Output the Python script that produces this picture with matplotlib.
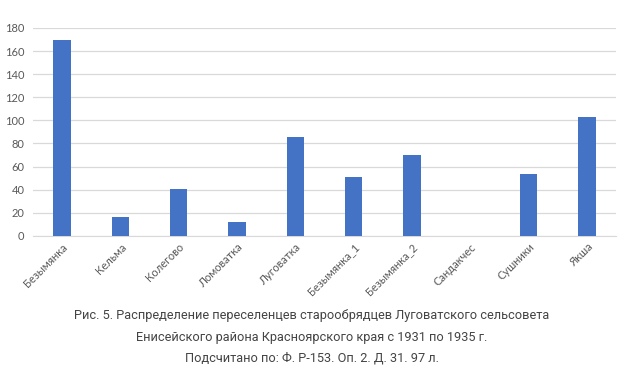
import matplotlib
matplotlib.use('Agg')
import matplotlib.pyplot as plt

# Данные
villages = ['Безымянка', 'Кельма', 'Колегово', 'Ломоватка', 'Луговатка',
            'Безымянка_1', 'Безымянка_2', 'Сандакчес', 'Сушники', 'Якша']
settlers = [170, 16, 41, 12, 86, 51, 70, 0, 54, 103]
y_ticks = [0, 20, 40, 60, 80, 100, 120, 140, 160, 180]

caption = ['Рис. 5. Распределение переселенцев старообрядцев Луговатского сельсовета',
           'Енисейского района Красноярского края с 1931 по 1935 г.',
           'Подсчитано по: Ф. Р-153. Оп. 2. Д. 31. 97 л.']

fig = plt.figure(figsize=(6.33, 3.83), dpi=100)
ax = fig.add_axes([0.052, 0.384, 0.921, 0.543])

ax.bar(range(len(villages)), settlers, width=0.3, color='#4472C4', zorder=3)

ax.set_xlim(-0.5, len(villages) - 0.5)
ax.set_ylim(0, 180)
ax.set_yticks(y_ticks)
ax.set_xticks(range(len(villages)))
ax.set_xticklabels(villages, rotation=45, ha='right', rotation_mode='anchor',
                   fontsize=8, color='#595959', family=['Lato', 'DejaVu Sans'])
ax.tick_params(axis='y', labelsize=8, labelcolor='#595959', length=0, pad=6)
ax.tick_params(axis='x', length=0, pad=4)
for lbl in ax.get_yticklabels():
    lbl.set_family(['Lato', 'DejaVu Sans'])

ax.grid(axis='y', color='#d9d9d9', linewidth=0.9, zorder=0)
for s in ['top', 'right', 'left']:
    ax.spines[s].set_visible(False)
ax.spines['bottom'].set_color('#d9d9d9')

# Подпись
ys = [315, 337, 358]
for txt, y in zip(caption, ys):
    fig.text(0.493, 1 - y / 383, txt, ha='center', va='center', fontsize=9.2,
             color='#444444', family=['Roboto', 'DejaVu Sans'])

fig.savefig('out.png', dpi=100)
